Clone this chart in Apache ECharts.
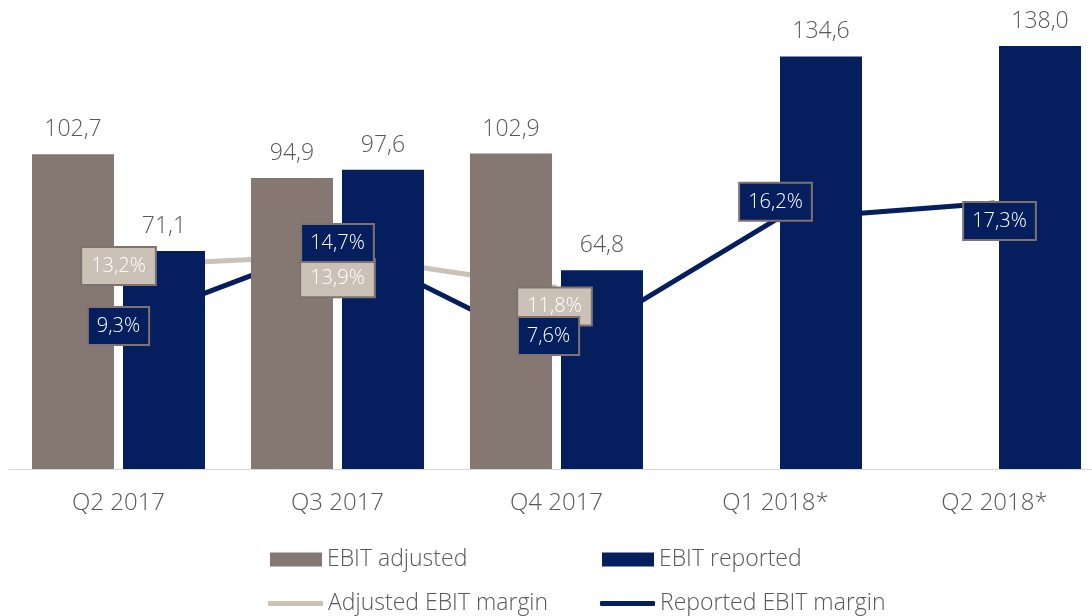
<!DOCTYPE html>
<html>
<head>
<meta charset="utf-8">
<script src="https://cdn.jsdelivr.net/npm/echarts@6/dist/echarts.min.js"></script>
<style>
  html, body { margin: 0; padding: 0; background: #fff; }
  #chart { width: 1092px; height: 616px; }
</style>
</head>
<body>
<div id="chart"></div>
<script>
// data
const categories = ['Q2 2017', 'Q3 2017', 'Q4 2017', 'Q1 2018*', 'Q2 2018*'];
const ebitAdjusted = [102.7, 94.9, 102.9, null, null];
const ebitReported = [71.1, 97.6, 64.8, 134.6, 138.0];
const adjustedMargin = [13.2, 13.9, 11.8, null, null];
const reportedMargin = [9.3, 14.7, 7.6, 16.2, 17.3];

// label nudges for the margin boxes (relative to the point)
const adjustedLabelOffset = [[0, 0], [0, 23], [-2, 19], [0, 0], [0, 0]];
const reportedLabelOffset = [[0, 0], [0, 0], [-8, -16], [0, -18], [5, 18]];

const GREY = '#857873';
const NAVY = '#041e5e';
const BEIGE = '#cbc1b7';
const BOX_BORDER = '#7f7370';
const TEXT = '#595959';
const FONT = '"Open Sans", "Noto Sans", sans-serif';

function fmt(v) { return v.toFixed(1).replace('.', ','); }

function marginLabels(values, offsets, bg) {
  return values.map(function (v, i) {
    if (v == null) return '-';
    return { value: v, label: { offset: offsets[i], backgroundColor: bg } };
  });
}

const chart = echarts.init(document.getElementById('chart'));

const legendBase = {
  padding: 0,
  selectedMode: false,
  textStyle: { fontSize: 23, color: TEXT, fontFamily: FONT, fontWeight: 300 }
};

chart.setOption({
  animation: false,
  grid: { left: 9, width: 1095, top: 46, height: 423, outerBoundsMode: 'none', containLabel: false },
  legend: [
    Object.assign({}, legendBase, { data: ['EBIT adjusted'], left: 270, top: 548, icon: 'rect', itemWidth: 52, itemHeight: 14 }),
    Object.assign({}, legendBase, { data: ['EBIT reported'], left: 602, top: 548, icon: 'rect', itemWidth: 52, itemHeight: 14 }),
    Object.assign({}, legendBase, { data: ['Adjusted EBIT margin'], left: 268, top: 592, icon: 'roundRect', itemWidth: 55, itemHeight: 5 }),
    Object.assign({}, legendBase, { data: ['Reported EBIT margin'], left: 600, top: 592, icon: 'roundRect', itemWidth: 55, itemHeight: 5 })
  ],
  xAxis: {
    type: 'category',
    data: categories,
    axisTick: { show: false },
    axisLine: { lineStyle: { color: '#d9d9d9', width: 1 } },
    axisLabel: { fontSize: 24, color: TEXT, fontFamily: FONT, fontWeight: 300, margin: 22 }
  },
  yAxis: [
    { type: 'value', min: 0, max: 138, show: false, splitLine: { show: false } },
    { type: 'value', min: 0, max: 27.5, show: false, splitLine: { show: false } }
  ],
  series: [
    {
      name: 'EBIT adjusted',
      type: 'bar',
      data: ebitAdjusted,
      barWidth: 82,
      barGap: '11%',
      z: 2,
      itemStyle: { color: GREY },
      label: {
        show: true, position: 'top', distance: 13,
        fontSize: 23, color: TEXT, fontFamily: FONT, fontWeight: 300,
        formatter: function (p) { return fmt(p.value); }
      }
    },
    {
      name: 'EBIT reported',
      type: 'bar',
      data: ebitReported,
      barWidth: 82,
      z: 2,
      itemStyle: { color: NAVY },
      label: {
        show: true, position: 'top', distance: 13,
        fontSize: 23, color: TEXT, fontFamily: FONT, fontWeight: 300,
        formatter: function (p) { return fmt(p.value); }
      }
    },
    {
      name: 'Adjusted EBIT margin',
      type: 'line',
      yAxisIndex: 1,
      data: adjustedMargin,
      symbol: 'none',
      z: 1,
      itemStyle: { color: BEIGE },
      lineStyle: { color: BEIGE, width: 5 }
    },
    {
      name: 'Reported EBIT margin',
      type: 'line',
      yAxisIndex: 1,
      data: reportedMargin,
      symbol: 'none',
      z: 1,
      itemStyle: { color: NAVY },
      lineStyle: { color: NAVY, width: 5 }
    },
    // label carriers so the boxes sit above the bars
    {
      name: 'adj-labels',
      type: 'scatter',
      yAxisIndex: 1,
      symbolSize: 0,
      z: 5,
      data: marginLabels(adjustedMargin, adjustedLabelOffset, BEIGE),
      itemStyle: { color: 'transparent', opacity: 1 },
      label: {
        show: true, position: 'inside',
        fontSize: 20, color: '#fff', fontFamily: FONT, fontWeight: 300,
        borderColor: BOX_BORDER, borderWidth: 2, padding: [8, 9],
        formatter: function (p) { return fmt(p.value) + '%'; }
      }
    },
    {
      name: 'rep-labels',
      type: 'scatter',
      yAxisIndex: 1,
      symbolSize: 0,
      z: 6,
      data: marginLabels(reportedMargin, reportedLabelOffset, NAVY),
      itemStyle: { color: 'transparent', opacity: 1 },
      label: {
        show: true, position: 'inside',
        fontSize: 20, color: '#fff', fontFamily: FONT, fontWeight: 300,
        borderColor: BOX_BORDER, borderWidth: 2, padding: [8, 8],
        formatter: function (p) { return fmt(p.value) + '%'; }
      }
    }
  ]
});
</script>
</body>
</html>
